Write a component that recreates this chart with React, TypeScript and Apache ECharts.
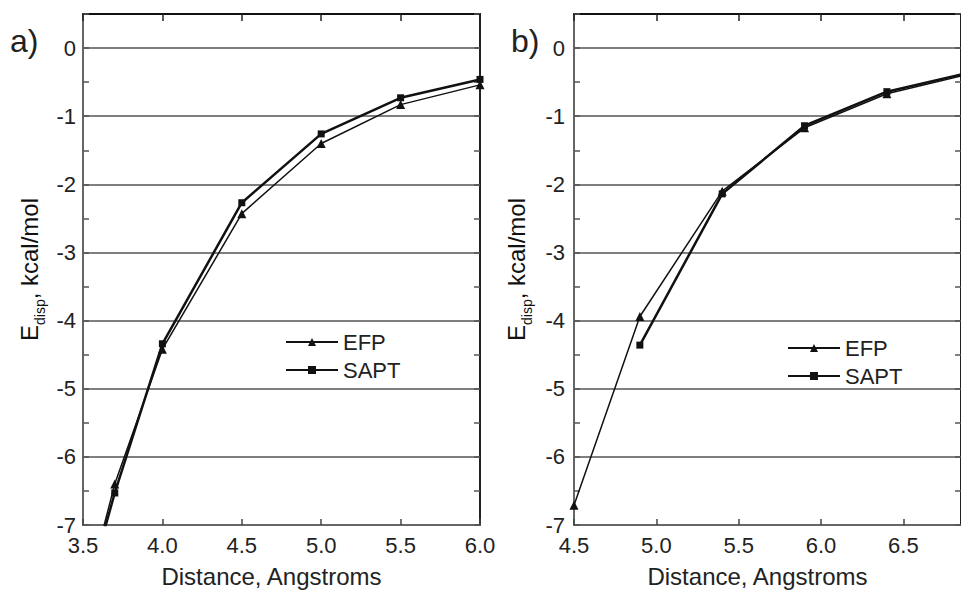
import React, { useEffect, useRef } from "react";
import * as echarts from "echarts";

// Panel a) data
const distA = [3.5, 3.7, 4.0, 4.5, 5.0, 5.5, 6.0];
const efpA = [-8.2, -6.40, -4.42, -2.43, -1.40, -0.83, -0.54];
const saptA = [-8.2, -6.53, -4.34, -2.27, -1.26, -0.73, -0.46];

// Panel b) data
const distEfpB = [4.5, 4.9, 5.4, 5.9, 6.4, 6.9];
const efpB = [-6.71, -3.94, -2.10, -1.17, -0.67, -0.38];
const distSaptB = [4.9, 5.4, 5.9, 6.4, 6.9];
const saptB = [-4.36, -2.14, -1.14, -0.64, -0.36];

const seriesNames = ["EFP", "SAPT"];
const panelLabels = ["a)", "b)"];
const xTitle = "Distance, Angstroms";

const FONT = "Liberation Sans, Arial, sans-serif";

const zip = (xs: number[], ys: number[]) => xs.map((x, i) => [x, ys[i]]);

export default function App() {
  const ref = useRef<HTMLDivElement>(null);
  useEffect(() => {
    if (!ref.current) return;
    const chart = echarts.init(ref.current, null, { renderer: "svg" });

    const grids = [
      { left: 83, top: 14, width: 397, height: 514 },
      { left: 574, top: 14, width: 388, height: 514 },
    ];
    const xRanges = [
      [3.5, 6.0],
      [4.5, 6.85],
    ];

    const xAxes: any[] = [];
    const yAxes: any[] = [];
    grids.forEach((_, gi) => {
      xAxes.push({
        type: "value",
        gridIndex: gi,
        position: "bottom",
        min: xRanges[gi][0],
        max: xRanges[gi][1],
        interval: 0.5,
        name: xTitle,
        nameLocation: "middle",
        nameGap: 39,
        nameTextStyle: { fontSize: 24, color: "#222", fontFamily: FONT, padding: [0, 20, 0, 0] },
        axisLine: { show: true, onZero: false, lineStyle: { color: "#666", width: 2 } },
        axisTick: { show: true, inside: true, length: 6, lineStyle: { color: "#444", width: 1.5 } },
        axisLabel: {
          show: true,
          margin: 9,
          fontSize: 22,
          color: "#222",
          fontFamily: FONT,
          showMaxLabel: gi === 0,
          formatter: (v: number) => v.toFixed(1),
        },
        splitLine: { show: false },
      });
      xAxes.push({
        type: "value",
        gridIndex: gi,
        position: "top",
        min: xRanges[gi][0],
        max: xRanges[gi][1],
        interval: 0.5,
        axisLine: { show: true, onZero: false, lineStyle: { color: "#111", width: 2 } },
        axisTick: { show: true, inside: true, length: 7, lineStyle: { color: "#222", width: 1.5 } },
        axisLabel: { show: false },
        splitLine: { show: false },
      });
      yAxes.push({
        type: "value",
        gridIndex: gi,
        position: "left",
        min: -7,
        max: 0.5,
        interval: 1,
        name: "{e|E}{s|disp}{k|, kcal/mol}",
        nameLocation: "middle",
        nameRotate: 90,
        nameGap: gi === 0 ? 36 : 40,
        nameTextStyle: {
          color: "#111",
          fontFamily: FONT,
          rich: {
            e: { fontSize: 24, fontFamily: FONT, color: "#111", verticalAlign: "top", lineHeight: 26 },
            s: { fontSize: 14, fontFamily: FONT, color: "#111", verticalAlign: "bottom", lineHeight: 30 },
            k: { fontSize: 24, fontFamily: FONT, color: "#111", verticalAlign: "top", lineHeight: 26 },
          },
        },
        axisLine: { show: true, onZero: false, lineStyle: { color: "#666", width: 2 } },
        axisTick: { show: true, inside: true, length: 6, lineStyle: { color: "#555", width: 1.5 } },
        minorTick: { show: true, splitNumber: 2, length: 6, lineStyle: { color: "#555", width: 1.5 } },
        axisLabel: {
          show: true,
          margin: gi === 0 ? 7 : 9,
          fontSize: 22,
          color: "#222",
          fontFamily: FONT,
          showMaxLabel: false,
        },
        splitLine: { show: true, lineStyle: { color: "#555", width: 1.5 } },
      });
      yAxes.push({
        type: "value",
        gridIndex: gi,
        position: "right",
        min: -7,
        max: 0.5,
        interval: 1,
        axisLine: { show: true, onZero: false, lineStyle: { color: "#222", width: 2 } },
        axisTick: { show: true, inside: true, length: 6, lineStyle: { color: "#555", width: 1.5 } },
        minorTick: { show: true, splitNumber: 2, length: 6, lineStyle: { color: "#555", width: 1.5 } },
        axisLabel: { show: false },
        splitLine: { show: false },
      });
    });

    const efpStyle = {
      type: "line",
      name: seriesNames[0],
      symbol: "triangle",
      symbolSize: 9,
      showAllSymbol: true,
      clip: true,
      itemStyle: { color: "#111" },
      lineStyle: { color: "#111", width: 1.5 },
      z: 5,
    };
    const saptStyle = {
      type: "line",
      name: seriesNames[1],
      symbol: "rect",
      symbolSize: 7,
      showAllSymbol: true,
      clip: true,
      itemStyle: { color: "#111" },
      lineStyle: { color: "#111", width: 2.5 },
      z: 5,
    };

    const series: any[] = [
      { ...efpStyle, xAxisIndex: 0, yAxisIndex: 0, data: zip(distA, efpA) },
      { ...saptStyle, xAxisIndex: 0, yAxisIndex: 0, data: zip(distA, saptA) },
      { ...efpStyle, xAxisIndex: 2, yAxisIndex: 2, data: zip(distEfpB, efpB) },
      { ...saptStyle, xAxisIndex: 2, yAxisIndex: 2, data: zip(distSaptB, saptB) },
    ];

    const legendBase = {
      orient: "vertical",
      data: seriesNames,
      itemWidth: 52,
      itemHeight: 10,
      itemGap: 6,
      selectedMode: false,
      textStyle: { fontSize: 22, color: "#222", fontFamily: FONT, lineHeight: 21 },
    };

    chart.setOption({
      animation: false,
      backgroundColor: "#fff",
      grid: grids.map((g) => ({ ...g, containLabel: false })),
      xAxis: xAxes,
      yAxis: yAxes,
      series,
      legend: [
        { ...legendBase, left: 280, top: 326 },
        { ...legendBase, left: 782, top: 332 },
      ],
      graphic: [
        {
          type: "text",
          left: 10,
          top: 25,
          style: { text: panelLabels[0], fontSize: 32, fill: "#222", fontFamily: FONT },
        },
        {
          type: "text",
          left: 511,
          top: 25,
          style: { text: panelLabels[1], fontSize: 32, fill: "#222", fontFamily: FONT },
        },
      ],
    });

    return () => chart.dispose();
  }, []);

  return (
    <div
      ref={ref}
      style={{ position: "absolute", left: 0, top: 0, width: 961, height: 593, background: "#fff" }}
    />
  );
}
